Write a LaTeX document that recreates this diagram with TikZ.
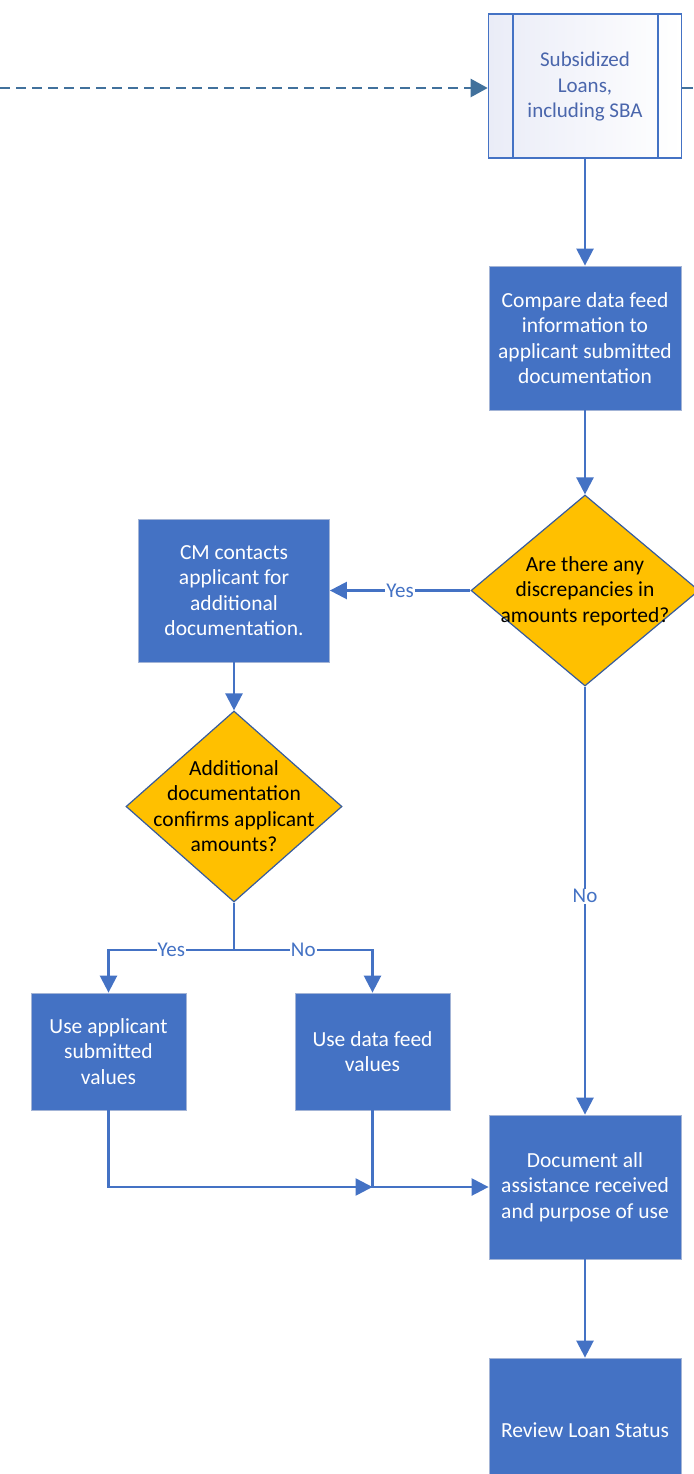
\documentclass[tikz,border=0pt]{standalone}
\usepackage{fontspec}
\setmainfont{Carlito}
\usetikzlibrary{arrows.meta,shapes.geometric}
\definecolor{boxblue}{HTML}{4472C4}
\definecolor{boxedge}{HTML}{A3B4D6}
\definecolor{gold}{HTML}{FFC000}
\definecolor{dashblue}{HTML}{41719C}
\definecolor{subtext}{HTML}{4A66AC}
\definecolor{subfill}{HTML}{EAECF7}
\tikzset{
  proc/.style={rectangle, fill=boxblue, draw=boxedge, line width=0.8pt, text=white,
    align=center, inner sep=0pt, font=\fontsize{21.5}{25.5}\selectfont},
  dec/.style={diamond, fill=gold, draw=boxblue!80!black, line width=1.2pt, inner sep=0pt},
  dectext/.style={align=center, text=black, font=\fontsize{21.5}{25.5}\selectfont},
  conn/.style={draw=boxblue, line width=2.5pt, -{Triangle[length=17pt,width=17pt]}},
  lab/.style={fill=white, text=boxblue, inner sep=1pt, font=\fontsize{21}{24}\selectfont},
}
\begin{document}
\begin{tikzpicture}[x=1pt,y=-1pt]
\useasboundingbox (0,0) rectangle (693,1474);
% subsidized loans (predefined process)
\node[rectangle, minimum width=193pt, minimum height=144pt, draw=boxblue, line width=1.6pt,
  left color=subfill, right color=white, inner sep=0pt] (sub) at (585,86) {};
\draw[boxblue, line width=1.6pt] (513,14) -- (513,158) (658,14) -- (658,158);
\node[align=center, text=subtext, font=\fontsize{21}{25.5}\selectfont] (subt) at (585,87) {Subsidized\\Loans,\\including SBA};
\coordinate (lin) at (0,88);
\coordinate (rout) at (693,88);
\draw[dashblue, line width=2.4pt, dash pattern=on 10pt off 6pt, -{Triangle[length=17pt,width=18pt]}] (lin) -- (sub.west |- lin);
\draw[dashblue, line width=2.2pt] (sub.east |- rout) -- (rout);

\node[proc, minimum width=192pt, minimum height=144pt] (cmp) at (585,338)
  {Compare data feed\\information to\\applicant submitted\\documentation};
\node[dec, minimum width=228pt, minimum height=191pt] (d1) at (585,590.5) {};
\node[dectext] (d1t) at (585,591) {Are there any\\discrepancies in\\amounts reported?};
\node[proc, minimum width=191pt, minimum height=143pt] (cm) at (234,590.5)
  {CM contacts\\applicant for\\additional\\documentation.};
\node[dec, minimum width=216pt, minimum height=191pt] (d2) at (234,806.5) {};
\node[dectext] (d2t) at (234,806) {Additional\\documentation\\confirms applicant\\amounts?};
\node[proc, minimum width=155pt, minimum height=117pt] (ua) at (108.5,1051.5)
  {Use applicant\\submitted\\values};
\node[proc, minimum width=155pt, minimum height=117pt] (df) at (372.5,1051.5)
  {Use data feed\\values};
\node[proc, minimum width=192pt, minimum height=144pt] (doc) at (585,1187)
  {Document all\\assistance received\\and purpose of use};
\node[proc, minimum width=192pt, minimum height=144pt] (rev) at (585,1430)
  {Review Loan Status};

\draw[conn] (sub.south) -- (cmp.north);
\draw[conn] (cmp.south) -- (d1.north);
\draw[conn] (d1.west) -- (cm.east) node[lab, midway] {Yes};
\draw[conn] (d1.south) -- (doc.north) node[lab, pos=0.49] {No};
\draw[conn] (cm.south) -- (d2.north);
\coordinate (split) at (234,950);
\draw[conn] (d2.south) -- (split) -| (ua.north) node[lab, pos=0.25] {Yes};
\draw[conn] (split) -| (df.north) node[lab, pos=0.25] {No};
\coordinate (merge) at (372.5,1187);
\draw[conn] (ua.south) |- (merge);
\draw[conn] (df.south) |- (doc.west);
\draw[conn] (doc.south) -- (rev.north);
\end{tikzpicture}
\end{document}
